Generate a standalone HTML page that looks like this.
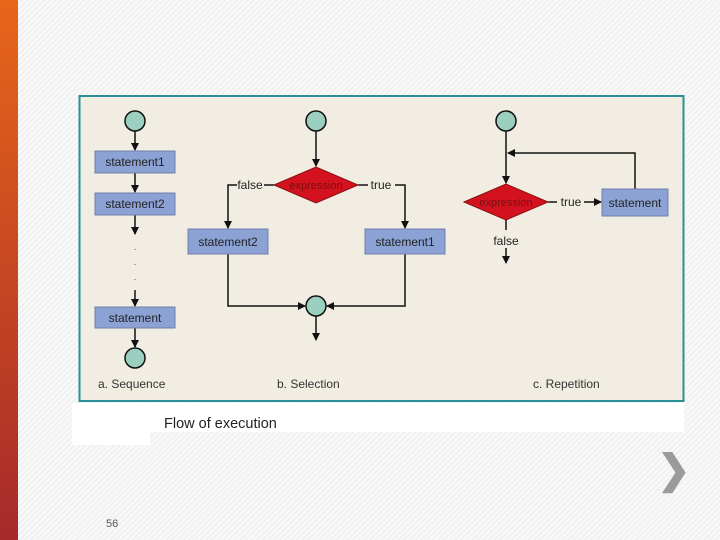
<!DOCTYPE html>
<html><head><style>
body{margin:0;width:720px;height:540px;overflow:hidden;background:#fafafa;font-family:"Liberation Sans",sans-serif;position:relative}
.bg{position:absolute;inset:0;background:repeating-linear-gradient(135deg,#f8f8f8 0 3px,#ececec 3px 4px)}
.bar{position:absolute;left:0;top:0;width:18px;height:540px;background:linear-gradient(#e8661a,#a52a2a)}
</style></head><body>
<div class="bg"></div><div class="bar"></div>
<div style="position:absolute;left:72px;top:403px;width:612px;height:29px;background:#fff"></div>
<div style="position:absolute;left:72px;top:430px;width:78px;height:15px;background:#fff"></div>
<div style="position:absolute;left:164px;top:416px;font-size:14.5px;color:#222">Flow of execution</div>
<div style="position:absolute;left:106px;top:518px;font-size:11px;color:#555">56</div>
<div style="position:absolute;left:657px;top:450px;font-size:40px;color:#9a9a9a;font-weight:bold;line-height:40px">❯</div>
<svg style="position:absolute;left:0;top:0" width="720" height="540" font-family="Liberation Sans, sans-serif">
<defs><marker id="a" markerWidth="8" markerHeight="8" refX="7" refY="4" orient="auto" markerUnits="userSpaceOnUse"><path d="M0,0L8,4L0,8z" fill="#111"/></marker></defs>
<rect x="79.5" y="96" width="604" height="305" fill="#f1ede3" stroke="#2a8f96" stroke-width="2"/>
<g stroke="#111" stroke-width="1.5" fill="none">
<line x1="135" y1="131" x2="135" y2="150" marker-end="url(#a)"/>
<line x1="135" y1="173" x2="135" y2="192" marker-end="url(#a)"/>
<line x1="135" y1="215" x2="135" y2="234" marker-end="url(#a)"/>
<line x1="135" y1="290" x2="135" y2="306" marker-end="url(#a)"/>
<line x1="135" y1="328" x2="135" y2="347" marker-end="url(#a)"/>
<line x1="316" y1="131" x2="316" y2="166" marker-end="url(#a)"/>
<polyline points="237,185 228,185 228,228" marker-end="url(#a)"/>
<line x1="264" y1="185" x2="274" y2="185"/>
<line x1="358" y1="185" x2="368" y2="185"/>
<polyline points="395,185 405,185 405,228" marker-end="url(#a)"/>
<polyline points="228,254 228,306 305,306" marker-end="url(#a)"/>
<polyline points="405,254 405,306 327,306" marker-end="url(#a)"/>
<line x1="316" y1="316" x2="316" y2="340" marker-end="url(#a)"/>
<line x1="506" y1="131" x2="506" y2="183" marker-end="url(#a)"/>
<polyline points="635,189 635,153 508,153" marker-end="url(#a)"/>
<line x1="548" y1="202" x2="557" y2="202"/>
<line x1="584" y1="202" x2="601" y2="202" marker-end="url(#a)"/>
<line x1="506" y1="220" x2="506" y2="230"/>
<line x1="506" y1="248" x2="506" y2="263" marker-end="url(#a)"/>
</g>
<g fill="#9bd0c0" stroke="#111" stroke-width="1.5">
<circle cx="135" cy="121" r="10"/><circle cx="135" cy="358" r="10"/>
<circle cx="316" cy="121" r="10"/><circle cx="316" cy="306" r="10"/>
<circle cx="506" cy="121" r="10"/>
</g>
<g fill="#8ca2d4" stroke="#6f80a8">
<rect x="95" y="151" width="80" height="22"/><rect x="95" y="193" width="80" height="22"/><rect x="95" y="307" width="80" height="21"/>
<rect x="188" y="229" width="80" height="25"/><rect x="365" y="229" width="80" height="25"/>
<rect x="602" y="189" width="66" height="27"/>
</g>
<g fill="#d4121f" stroke="#8a1010">
<polygon points="274,185 316,167 358,185 316,203"/>
<polygon points="464,202 506,184 548,202 506,220"/>
</g>
<g font-size="12" fill="#222" text-anchor="middle">
<text x="135" y="166">statement1</text><text x="135" y="208">statement2</text><text x="135" y="322">statement</text>
<text x="228" y="246">statement2</text><text x="405" y="246">statement1</text><text x="635" y="207">statement</text>
<text x="250" y="189">false</text><text x="381" y="189">true</text><text x="571" y="206">true</text><text x="506" y="245">false</text>
<text x="316" y="189" fill="#7a1010" font-size="11">expression</text><text x="506" y="206" fill="#7a1010" font-size="11">expression</text>
<text x="135" y="250" font-size="8">.</text><text x="135" y="265" font-size="8">.</text><text x="135" y="280" font-size="8">.</text>
</g>
<g font-size="12" fill="#333">
<text x="98" y="388">a.  Sequence</text><text x="277" y="388">b.  Selection</text><text x="533" y="388">c.  Repetition</text>
</g>
</svg>
</body></html>
